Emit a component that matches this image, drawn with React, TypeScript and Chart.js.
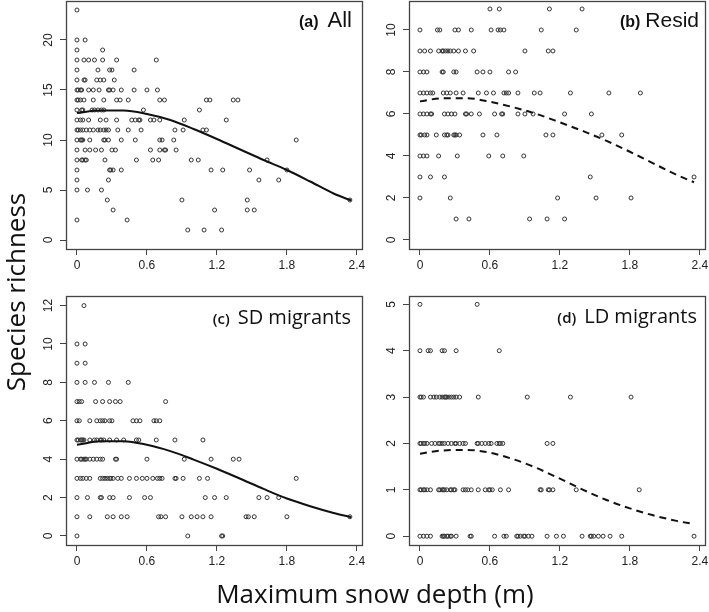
import React, { useEffect, useRef } from "react";
import { Chart, registerables } from "chart.js";
Chart.register(...registerables);

// ---------- data ----------
const xTicks = [0, 0.6, 1.2, 1.8, 2.4];
const yTicksA = [0, 5, 10, 15, 20];
const yTicksB = [0, 2, 4, 6, 8, 10];
const yTicksC = [0, 2, 4, 6, 8, 10, 12];
const yTicksD = [0, 1, 2, 3, 4, 5];

// rows: [species richness, [snow depths...]]
const allRows: [number, number[]][] = [
  [23, [0]],
  [20, [0, 0.07]],
  [19, [0, 0.22]],
  [18, [0, 0.06, 0.1, 0.15, 0.22, 0.34, 0.68]],
  [17, [0, 0.18, 0.28, 0.3, 0.49]],
  [16, [0, 0.06, 0.07, 0.17, 0.2, 0.23, 0.32]],
  [15, [0, 0.01, 0.03, 0.04, 0.1, 0.14, 0.19, 0.27, 0.28, 0.31, 0.38, 0.49, 0.6, 0.69]],
  [14, [0, 0.01, 0.03, 0.06, 0.14, 0.23, 0.34, 0.37, 0.44, 0.71, 0.75, 1.11, 1.14, 1.34, 1.38]],
  [13, [0, 0.04, 0.05, 0.13, 0.15, 0.18, 0.21, 0.23, 0.57, 1.05]],
  [12, [0, 0.03, 0.05, 0.1, 0.2, 0.25, 0.34, 0.47, 0.5, 0.53, 0.54, 0.63, 0.66, 0.71, 0.92, 1.28]],
  [11, [0, 0.01, 0.03, 0.05, 0.08, 0.11, 0.14, 0.18, 0.2, 0.23, 0.25, 0.27, 0.35, 0.44, 0.55, 0.84, 0.91, 1.08, 1.11]],
  [10, [0, 0.03, 0.04, 0.05, 0.11, 0.23, 0.24, 0.27, 0.38, 0.5, 0.71, 0.73, 0.83, 1.88]],
  [9, [0, 0.07, 0.11, 0.16, 0.21, 0.3, 0.33, 0.63, 0.71, 0.75, 0.76, 0.85]],
  [8, [0, 0.04, 0.05, 0.07, 0.08, 0.24, 0.51, 0.65, 0.7, 0.98, 1.04, 1.63]],
  [7, [0, 0.28, 0.29, 0.31, 0.38, 1.15, 1.25, 1.48, 1.8]],
  [6, [0, 0.27, 1.56, 1.73]],
  [5, [0, 0.09, 0.21]],
  [4, [0.26, 0.9, 1.46, 2.34]],
  [3, [0.31, 1.18, 1.46, 1.52]],
  [2, [0, 0.43]],
  [1, [0.95, 1.09, 1.24]],
];

const residRows: [number, number[]][] = [
  [11, [0.6, 0.68, 1.11, 1.39]],
  [10, [0, 0.15, 0.17, 0.3, 0.33, 0.44, 0.61, 0.67, 0.69, 0.72, 1.04, 1.34]],
  [9, [0, 0.04, 0.09, 0.16, 0.19, 0.2, 0.22, 0.24, 0.26, 0.29, 0.33, 0.39, 0.46, 0.9, 1.1, 1.14]],
  [8, [0, 0.03, 0.06, 0.19, 0.2, 0.29, 0.31, 0.49, 0.54, 0.6, 0.76, 0.82]],
  [7, [0, 0.03, 0.06, 0.09, 0.11, 0.2, 0.23, 0.26, 0.31, 0.37, 0.5, 0.57, 0.63, 0.72, 0.74, 0.76, 0.84, 0.98, 1.03, 1.29, 1.62, 1.89]],
  [6, [0, 0.03, 0.06, 0.09, 0.1, 0.21, 0.24, 0.27, 0.3, 0.39, 0.4, 0.44, 0.51, 0.64, 0.7, 0.71, 0.84, 0.9, 0.97, 1.24, 1.47]],
  [5, [0, 0.01, 0.04, 0.06, 0.14, 0.21, 0.23, 0.24, 0.29, 0.3, 0.31, 0.34, 0.54, 0.66, 1.08, 1.14, 1.56, 1.73]],
  [4, [0, 0.03, 0.06, 0.16, 0.32, 0.59, 0.71, 0.89]],
  [3, [0, 0.09, 0.21, 1.46, 2.35]],
  [2, [0, 0.26, 1.18, 1.51, 1.81]],
  [1, [0.31, 0.42, 0.94, 1.09, 1.24]],
];

const sdRows: [number, number[]][] = [
  [12, [0.06]],
  [10, [0, 0.07]],
  [9, [0, 0.07]],
  [8, [0, 0.07, 0.15, 0.27, 0.44]],
  [7, [0, 0.02, 0.04, 0.16, 0.22, 0.28, 0.33, 0.37, 0.76]],
  [6, [0, 0.02, 0.11, 0.17, 0.2, 0.22, 0.24, 0.28, 0.3, 0.48, 0.51, 0.54, 0.66, 0.68, 0.71]],
  [5, [0, 0.01, 0.03, 0.04, 0.05, 0.06, 0.11, 0.15, 0.17, 0.2, 0.21, 0.23, 0.28, 0.34, 0.4, 0.51, 0.53, 0.68, 0.84, 1.08]],
  [4, [0, 0.03, 0.04, 0.06, 0.07, 0.08, 0.11, 0.14, 0.17, 0.2, 0.22, 0.33, 0.34, 0.6, 0.92, 1.15, 1.34, 1.39]],
  [3, [0, 0.03, 0.05, 0.08, 0.11, 0.2, 0.22, 0.24, 0.26, 0.28, 0.29, 0.31, 0.35, 0.38, 0.45, 0.51, 0.56, 0.6, 0.65, 0.69, 0.71, 0.73, 0.84, 0.85, 0.91, 1.05, 1.12, 1.88]],
  [2, [0, 0.09, 0.2, 0.21, 0.28, 0.31, 0.45, 0.58, 0.63, 1.1, 1.18, 1.28, 1.56, 1.63, 1.73]],
  [1, [0, 0.11, 0.26, 0.31, 0.38, 0.43, 0.7, 0.72, 0.76, 0.9, 0.98, 1.03, 1.08, 1.15, 1.45, 1.47, 1.52, 1.8, 2.34]],
  [0, [0, 0.95, 1.24, 1.25]],
];

const ldRows: [number, number[]][] = [
  [5, [0, 0.49]],
  [4, [0, 0.07, 0.09, 0.19, 0.21, 0.31, 0.68]],
  [3, [0, 0.01, 0.03, 0.09, 0.12, 0.14, 0.17, 0.19, 0.21, 0.22, 0.23, 0.25, 0.27, 0.29, 0.31, 0.34, 0.5, 0.92, 1.29, 1.81]],
  [2, [0, 0.01, 0.03, 0.04, 0.06, 0.1, 0.13, 0.16, 0.17, 0.19, 0.21, 0.24, 0.27, 0.3, 0.31, 0.34, 0.37, 0.39, 0.49, 0.5, 0.53, 0.56, 0.59, 0.61, 0.66, 0.68, 0.69, 0.71, 1.09, 1.14]],
  [1, [0, 0.01, 0.03, 0.04, 0.06, 0.09, 0.16, 0.17, 0.19, 0.2, 0.21, 0.23, 0.26, 0.27, 0.29, 0.3, 0.37, 0.39, 0.41, 0.44, 0.5, 0.56, 0.59, 0.6, 0.62, 0.69, 0.76, 1.03, 1.04, 1.1, 1.11, 1.14, 1.34, 1.88]],
  [0, [0, 0.03, 0.06, 0.09, 0.19, 0.2, 0.21, 0.23, 0.24, 0.26, 0.27, 0.31, 0.43, 0.44, 0.64, 0.72, 0.74, 0.83, 0.84, 0.86, 0.89, 0.9, 0.93, 0.96, 1.09, 1.17, 1.23, 1.39, 1.46, 1.47, 1.49, 1.53, 1.57, 1.63, 1.73, 2.35]],
];

// fitted curves
const curveX = [0, 0.2, 0.4, 0.6, 0.8, 1.0, 1.2, 1.4, 1.6, 1.8, 2.0, 2.2, 2.35];
const curveA = [12.7, 12.95, 12.95, 12.6, 12.0, 11.1, 10.1, 9.05, 8.0, 7.0, 5.85, 4.65, 3.95];
const curveB = [6.6, 6.75, 6.75, 6.58, 6.32, 6.0, 5.6, 5.18, 4.72, 4.2, 3.65, 3.1, 2.75];
const curveC = [4.75, 4.93, 4.94, 4.75, 4.42, 3.98, 3.5, 2.98, 2.45, 1.95, 1.55, 1.2, 0.98];
const curveD = [1.78, 1.85, 1.86, 1.8, 1.66, 1.47, 1.24, 1.0, 0.78, 0.6, 0.45, 0.33, 0.26];

// ---------- panel configuration ----------
type Panel = {
  key: string;
  rows: [number, number[]][];
  curve: number[];
  dashed: boolean;
  yTicks: number[];
  yMin: number;
  yMax: number;
  tag: string;
  name: string;
  tagFont: string;
  nameFont: string;
  inset: number;
  gap: number;
  baseOff: number;
  area: { l: number; t: number; r: number; b: number };
};

const SANS = "'Liberation Sans', Arial, sans-serif";
const HUM = "'Open Sans', 'Noto Sans', sans-serif";

const panels: Panel[] = [
  {
    key: "a", rows: allRows, curve: curveA, dashed: false, yTicks: yTicksA, yMin: -0.9, yMax: 23.9,
    tag: "(a)", name: "All", tagFont: `bold 16px ${SANS}`, nameFont: `22px ${SANS}`, inset: 10, gap: 9, baseOff: 26,
    area: { l: 66, t: 1, r: 362, b: 249 },
  },
  {
    key: "b", rows: residRows, curve: curveB, dashed: true, yTicks: yTicksB, yMin: -0.43, yMax: 11.38,
    tag: "(b)", name: "Resid", tagFont: `bold 16px ${SANS}`, nameFont: `21px ${SANS}`, inset: 6, gap: 5, baseOff: 26,
    area: { l: 409, t: 1, r: 705, b: 249 },
  },
  {
    key: "c", rows: sdRows, curve: curveC, dashed: false, yTicks: yTicksC, yMin: -0.47, yMax: 12.5,
    tag: "(c)", name: "SD migrants", tagFont: `600 15px ${HUM}`, nameFont: `20px ${HUM}`, inset: 11, gap: 8, baseOff: 28,
    area: { l: 66, t: 296, r: 362, b: 545 },
  },
  {
    key: "d", rows: ldRows, curve: curveD, dashed: true, yTicks: yTicksD, yMin: -0.19, yMax: 5.18,
    tag: "(d)", name: "LD migrants", tagFont: `600 15px ${HUM}`, nameFont: `20px ${HUM}`, inset: 8, gap: 8, baseOff: 27,
    area: { l: 409, t: 296, r: 705, b: 545 },
  },
];

const ML = 66; // space left of plot box inside canvas (y axis)
const MT = 20;
const MR = 20;
const MB = 45;

const decoPlugin = {
  id: "panelDeco",
  afterDraw(chart: any, _args: any, opts: any) {
    const { ctx, chartArea: a, scales } = chart;
    ctx.save();
    // box
    ctx.strokeStyle = "#444";
    ctx.lineWidth = 1.3;
    ctx.strokeRect(Math.round(a.left) + 0.5, Math.round(a.top) + 0.5, Math.round(a.right - a.left), Math.round(a.bottom - a.top));
    // rotated y tick labels
    const ys = scales.y;
    ctx.fillStyle = "#222";
    ctx.font = `12px ${SANS}`;
    ctx.textAlign = "center";
    ctx.textBaseline = "middle";
    for (const t of ys.ticks) {
      const py = ys.getPixelForValue(t.value);
      ctx.save();
      ctx.translate(a.left - 17, py);
      ctx.rotate(-Math.PI / 2);
      ctx.fillText(String(t.value), 0, 0);
      ctx.restore();
    }
    // panel title
    ctx.fillStyle = "#111";
    ctx.textBaseline = "alphabetic";
    ctx.textAlign = "right";
    ctx.font = opts.nameFont;
    const nx = a.right - opts.inset;
    const by = a.top + opts.baseOff;
    ctx.fillText(opts.name, nx, by);
    const w = ctx.measureText(opts.name).width;
    ctx.font = opts.tagFont;
    ctx.fillText(opts.tag, nx - w - opts.gap, by);
    ctx.restore();
  },
};

function PanelChart({ p }: { p: Panel }) {
  const ref = useRef<HTMLCanvasElement | null>(null);
  const { l, t, r, b } = p.area;
  const W = r - l + ML + MR;
  const H = b - t + MT + MB;

  useEffect(() => {
    if (!ref.current) return;
    const pts = p.rows.flatMap(([y, xs]) => xs.map((x) => ({ x, y })));
    const line = curveX.map((x, i) => ({ x, y: p.curve[i] }));
    const chart = new Chart(ref.current, {
      type: "scatter",
      data: {
        datasets: [
          {
            data: line,
            showLine: true,
            borderColor: "#111",
            borderWidth: 2,
            borderDash: p.dashed ? [7, 5] : [],
            pointRadius: 0,
            fill: false,
            cubicInterpolationMode: "monotone",
          } as any,
          {
            data: pts,
            pointRadius: 2,
            pointBorderWidth: 1,
            borderColor: "#333",
            backgroundColor: "rgba(0,0,0,0)",
            pointStyle: "circle",
          } as any,
        ],
      },
      options: {
        responsive: false,
        animation: false,
        events: [],
        layout: { padding: { left: 0, top: MT, right: MR, bottom: 0 } },
        plugins: {
          legend: { display: false },
          tooltip: { enabled: false },
          panelDeco: {
            tag: p.tag, name: p.name, tagFont: p.tagFont, nameFont: p.nameFont,
            inset: p.inset, gap: p.gap, baseOff: p.baseOff,
          },
        } as any,
        scales: {
          x: {
            type: "linear",
            min: -0.094,
            max: 2.444,
            afterBuildTicks: (s: any) => { s.ticks = xTicks.map((v) => ({ value: v })); },
            afterFit: (s: any) => { s.height = MB; },
            grid: { drawOnChartArea: false, drawTicks: true, tickLength: 6, color: "#444", lineWidth: 1 },
            border: { display: false },
            ticks: {
              padding: 3,
              color: "#222",
              font: { family: SANS, size: 12 },
              maxRotation: 0,
              minRotation: 0,
              autoSkip: false,
              callback: (v: any) => String(v),
            },
          },
          y: {
            type: "linear",
            min: p.yMin,
            max: p.yMax,
            afterBuildTicks: (s: any) => { s.ticks = p.yTicks.map((v) => ({ value: v })); },
            afterFit: (s: any) => { s.width = ML; },
            grid: { drawOnChartArea: false, drawTicks: true, tickLength: 6, color: "#444", lineWidth: 1 },
            border: { display: false },
            ticks: { display: false },
          },
        },
      } as any,
      plugins: [decoPlugin],
    });
    return () => chart.destroy();
  }, [p]);

  return (
    <canvas
      ref={ref}
      width={W}
      height={H}
      style={{ position: "absolute", left: l - ML, top: t - MT, width: W, height: H }}
    />
  );
}

export default function App() {
  return (
    <div
      style={{
        position: "absolute", left: 0, top: 0, width: 709, height: 612,
        overflow: "hidden", background: "#fff",
      }}
    >
      {panels.map((p) => (
        <PanelChart key={p.key} p={p} />
      ))}
      <div
        style={{
          position: "absolute", left: 175, top: 580, width: 400, height: 26,
          textAlign: "center", fontFamily: HUM, fontSize: 26, lineHeight: "26px",
          color: "#111", whiteSpace: "nowrap",
        }}
      >
        Maximum snow depth (m)
      </div>
      <div
        style={{
          position: "absolute", left: 15 - 150, top: 292 - 13, width: 300, height: 26,
          textAlign: "center", fontFamily: HUM, fontSize: 26, lineHeight: "26px",
          color: "#111", whiteSpace: "nowrap", transform: "rotate(-90deg)", transformOrigin: "center",
        }}
      >
        Species richness
      </div>
    </div>
  );
}
